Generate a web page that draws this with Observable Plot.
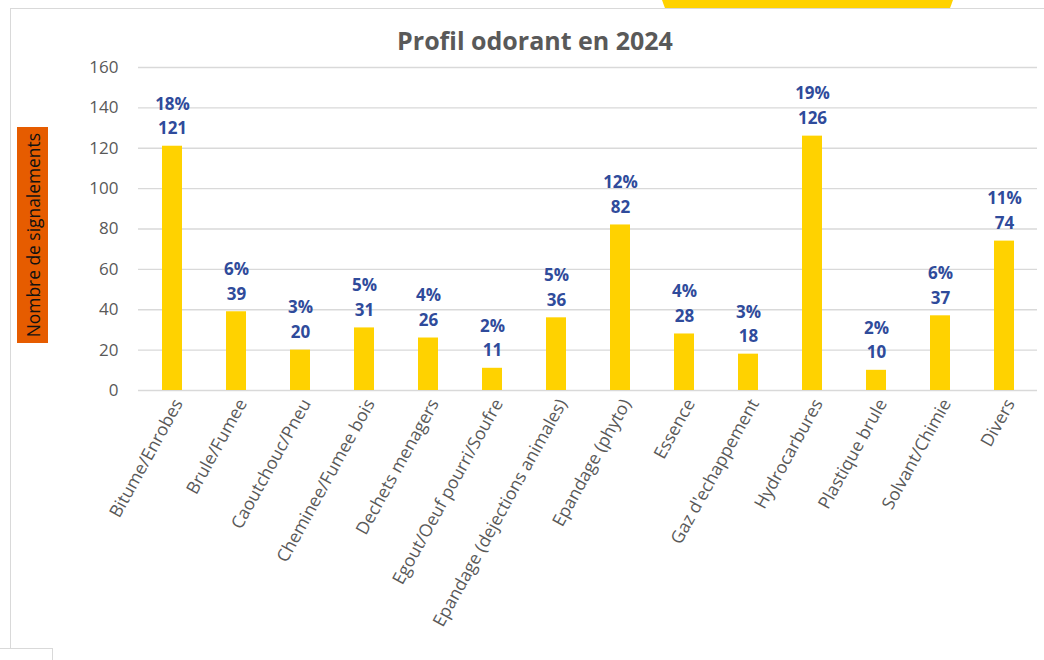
<!DOCTYPE html>
<html><head><meta charset="utf-8">
<script src="https://cdn.jsdelivr.net/npm/d3@7"></script>
<script src="https://cdn.jsdelivr.net/npm/@observablehq/plot@0.6"></script>
<style>
body{margin:0;background:#fff;}
#wrap{position:relative;width:1044px;height:660px;overflow:hidden;font-family:"Open Sans",sans-serif;}
#chart{position:absolute;left:0;top:0;}
#tab{position:absolute;left:662px;top:0;width:291px;height:8px;background:#FFD200;clip-path:polygon(0 0,100% 0,99% 100%,1% 100%);}
#frameTop{position:absolute;left:10px;top:8px;width:1034px;height:0;border-top:1.5px solid #d9d9d9;}
#frameLeft{position:absolute;left:10px;top:8px;width:0;height:640px;border-left:1.5px solid #d9d9d9;}
#corner{position:absolute;left:0;top:648px;width:52px;height:20px;border-top:1px solid #d9d9d9;border-right:1px solid #d9d9d9;background:#fff;}
#title{position:absolute;left:0;width:1070px;top:23px;text-align:center;font-weight:700;font-size:25px;color:#595959;}
#ylab{position:absolute;left:17px;top:127px;width:31px;height:216px;background:#E65C00;display:flex;align-items:center;justify-content:center;}
#ylab span{writing-mode:vertical-rl;transform:rotate(180deg);font-size:17.4px;color:#111;white-space:nowrap;}
</style></head><body>
<div id="wrap">
  <div id="chart"></div>
  <div id="tab"></div>
  <div id="frameTop"></div>
  <div id="frameLeft"></div>
  <div id="corner"></div>
  <div id="title">Profil odorant en 2024</div>
  <div id="ylab"><span>Nombre de signalements</span></div>
</div>
<script>
const categories = ["Bitume/Enrobes","Brule/Fumee","Caoutchouc/Pneu","Cheminee/Fumee bois","Dechets menagers","Egout/Oeuf pourri/Soufre","Epandage (dejections animales)","Epandage (phyto)","Essence","Gaz d'echappement","Hydrocarbures","Plastique brule","Solvant/Chimie","Divers"];
const counts = [121,39,20,31,26,11,36,82,28,18,126,10,37,74];
const percents = ["18%","6%","3%","5%","4%","2%","5%","12%","4%","3%","19%","2%","6%","11%"];
const yTicks = [0,20,40,60,80,100,120,140,160];

const data = categories.map((c,i)=>({cat:c, n:counts[i], pct:percents[i]}));

const chart = Plot.plot({
  width:1044, height:660,
  marginTop:67, marginBottom:270, marginLeft:138, marginRight:7,
  style:{background:"transparent", fontFamily:"'Open Sans', sans-serif"},
  x:{domain:categories, paddingInner:0.69, paddingOuter:0.345, label:null},
  y:{domain:[0,160], label:null},
  marks:[
    Plot.ruleY(yTicks, {stroke:"#d9d9d9", strokeWidth:1.3}),
    Plot.barY(data, {x:"cat", y:"n", fill:"#FFD200"}),
    Plot.text(data, {x:"cat", y:"n", text:d=>d.pct+"\n"+d.n, lineAnchor:"bottom", dy:-12, lineHeight:1.45, fill:"#2F4B9B", fontWeight:700, fontSize:17}),
    Plot.axisX({tickSize:0, tickRotate:-61, tickPadding:10, dx:6, fontSize:17.5, color:"#595959", label:null}),
    Plot.axisY({ticks:yTicks, tickSize:0, tickPadding:20, fontSize:17, color:"#595959", label:null})
  ]
});
document.getElementById("chart").appendChild(chart);
</script>
</body></html>
